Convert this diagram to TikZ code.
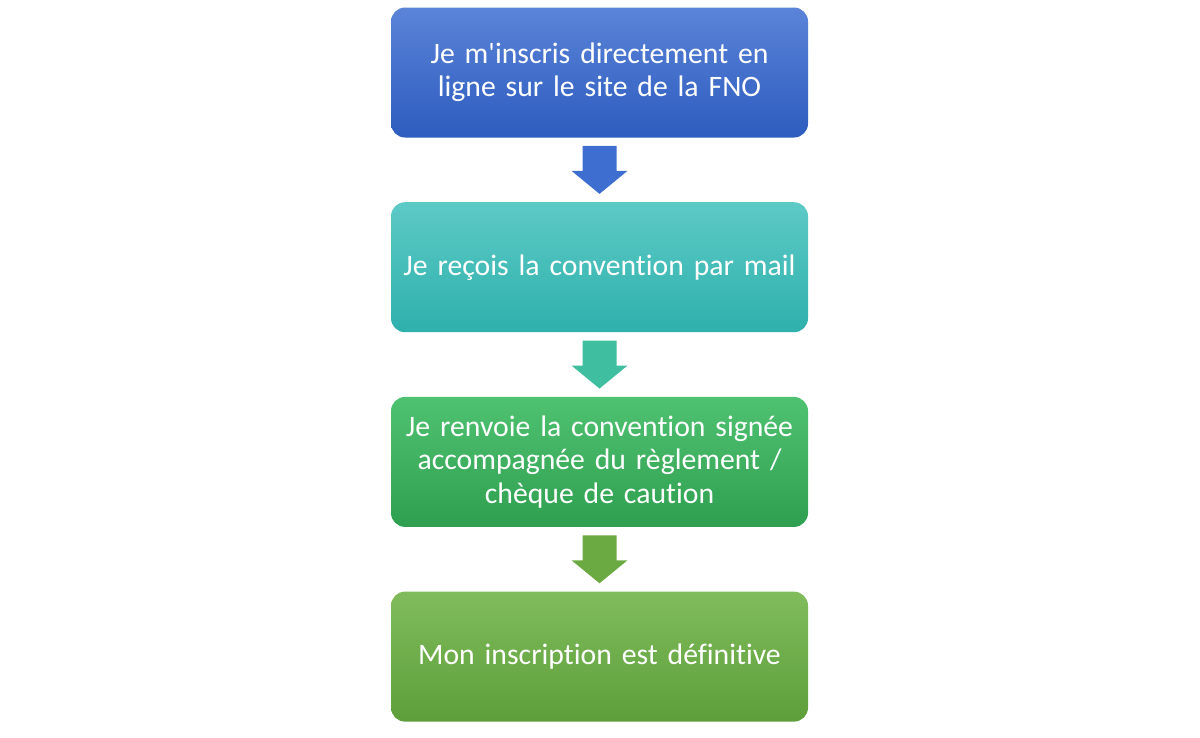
\documentclass[tikz,border=0pt]{standalone}
\usepackage{fontspec}
\setmainfont[Ligatures=NoCommon]{Carlito}
\usetikzlibrary{positioning,calc}
\definecolor{bTop}{HTML}{5B84D8}\definecolor{bBot}{HTML}{2D5CBF}
\definecolor{tTop}{HTML}{5DCAC6}\definecolor{tBot}{HTML}{2EB0AC}
\definecolor{gTop}{HTML}{4FC272}\definecolor{gBot}{HTML}{2E9F4E}
\definecolor{lTop}{HTML}{80BC5C}\definecolor{lBot}{HTML}{5D9E3A}
\definecolor{aOne}{HTML}{3E6FD0}\definecolor{aTwo}{HTML}{40BFA0}
\definecolor{aThree}{HTML}{4DB563}\definecolor{aFour}{HTML}{6BAA42}
\tikzset{
  stepbox/.style={rectangle, rounded corners=8pt, minimum width=8.34cm, minimum height=2.6cm,
    inner xsep=0.07cm, text width=8.2cm, align=center, text=white, font=\fontsize{16.9}{19}\selectfont},
  blockarrow/.style={fill=#1}
}
\newcommand{\flecha}[3]{% from, to, colour
  \fill[#3] ($(#1.south)+(-0.34,-0.16)$) -- ($(#1.south)+(0.34,-0.16)$) -- ($(#1.south)+(0.34,-0.66)$)
    -- ($(#1.south)+(0.56,-0.66)$) -- ($(#2.north)+(0,0.16)$) -- ($(#1.south)+(-0.56,-0.66)$)
    -- ($(#1.south)+(-0.34,-0.66)$) -- cycle;}
\begin{document}
\begin{tikzpicture}
  \useasboundingbox (0,0) rectangle (24,-14.74);
  % steps
  \node[stepbox, top color=bTop, bottom color=bBot] (inscris) at (11.99,-1.45)
    {Je m\textquotesingle inscris directement en\\ligne sur le site de la FNO};
  \node[stepbox, top color=tTop, bottom color=tBot, below=1.28cm of inscris] (recois)
    {Je reçois la convention par mail};
  \node[stepbox, top color=gTop, bottom color=gBot, below=1.28cm of recois] (renvoie)
    {Je renvoie la convention signée\\accompagnée du règlement /\\chèque de caution};
  \node[stepbox, top color=lTop, bottom color=lBot, below=1.28cm of renvoie] (definitive)
    {Mon inscription est définitive};
  % arrows
  \flecha{inscris}{recois}{aOne}
  \flecha{recois}{renvoie}{aTwo}
  \flecha{renvoie}{definitive}{aFour}
\end{tikzpicture}
\end{document}
